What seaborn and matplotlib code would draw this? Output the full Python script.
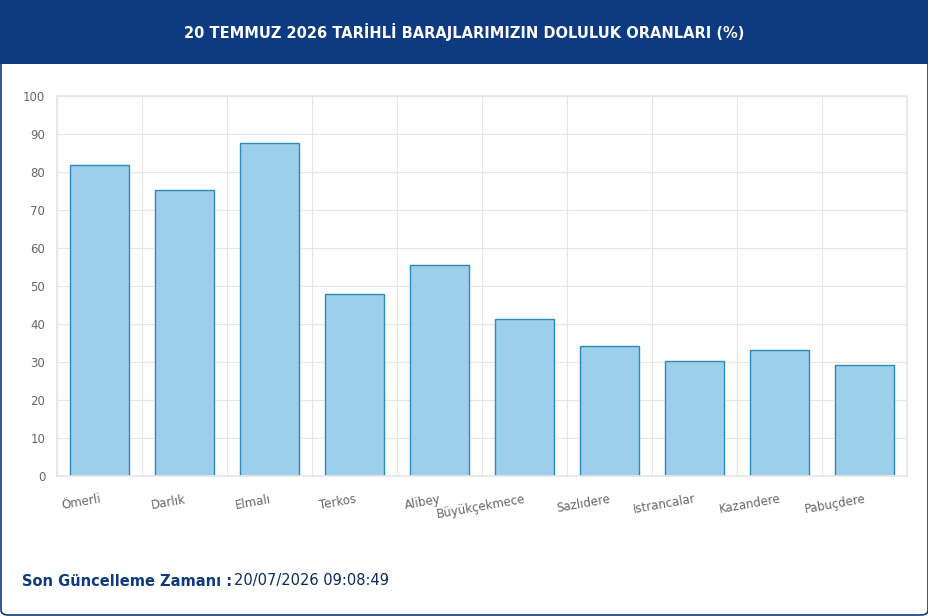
import matplotlib
matplotlib.use("Agg")
import matplotlib.pyplot as plt
import seaborn as sns
import pandas as pd
from matplotlib.patches import Rectangle, FancyBboxPatch

dams = ["Ömerli", "Darlık", "Elmalı", "Terkos", "Alibey", "Büyükçekmece",
        "Sazlıdere", "Istrancalar", "Kazandere", "Pabuçdere"]
rates = [81.8, 75.3, 87.6, 47.9, 55.5, 41.3, 34.2, 30.3, 33.2, 29.2]
yticks = list(range(0, 101, 10))

sns.set_theme(style="white")
plt.rcParams['font.family'] = ['DejaVu Sans']

fig = plt.figure(figsize=(9.29, 6.16), dpi=100)
W, H = 929, 616
fig.patches.append(FancyBboxPatch((1/W, 1/H), 927/W, 614/H, boxstyle="round,pad=0,rounding_size=0.008",
                                  transform=fig.transFigure, fc="white", ec="#0d3a80", lw=1.2, zorder=-5))
fig.patches.append(Rectangle((0, 1 - 64/H), 1, 64/H, transform=fig.transFigure, fc="#0d3a80", ec="none", zorder=-4))
fig.text(0.5, 1 - 32/H, "20 TEMMUZ 2026 TARİHLİ BARAJLARIMIZIN DOLULUK ORANLARI (%)",
         color="white", ha="center", va="center", fontsize=10.5, fontweight="bold")

ax = fig.add_axes([57/W, 1 - 476/H, 850/W, 380/H])
ax.patch.set_alpha(0)
df = pd.DataFrame({"dam": dams, "rate": rates})
sns.barplot(data=df, x="dam", y="rate", ax=ax, color="#9dcfec", edgecolor="#2a8ab8",
            linewidth=1, width=0.7, saturation=1)
ax.set_ylim(0, 100)
ax.set_xlim(-0.5, len(dams) - 0.5)
ax.set_yticks(yticks)
ax.set_yticklabels([str(t) for t in yticks], fontsize=8.5, color="#666666")
ax.set_xticks(range(len(dams)))
ax.set_xticklabels(dams, rotation=10, fontsize=8.5, color="#666666", ha="right",
                   rotation_mode="anchor")
ax.set_xticks([i + 0.5 for i in range(-1, len(dams))], minor=True)
ax.grid(True, which="minor", axis="x", color="#e6e6e6", lw=0.8)
ax.grid(True, which="major", axis="y", color="#e6e6e6", lw=0.8)
ax.set_axisbelow(True)
ax.tick_params(axis="x", which="major", length=0, pad=12)
ax.tick_params(axis="x", which="minor", length=5, color="#e6e6e6")
ax.tick_params(axis="y", length=5, color="#e6e6e6")
for s in ax.spines.values():
    s.set_color("#e6e6e6")
ax.set_xlabel("")
ax.set_ylabel("")

fig.text(22/W, 1 - 581/H, "Son Güncelleme Zamanı :", color="#0d3a80", fontsize=10.5,
         fontweight="bold", va="center")
fig.text(234/W, 1 - 581/H, "20/07/2026 09:08:49", color="#0d2a5a", fontsize=10.5, va="center")

fig.savefig("out.png", dpi=100)
